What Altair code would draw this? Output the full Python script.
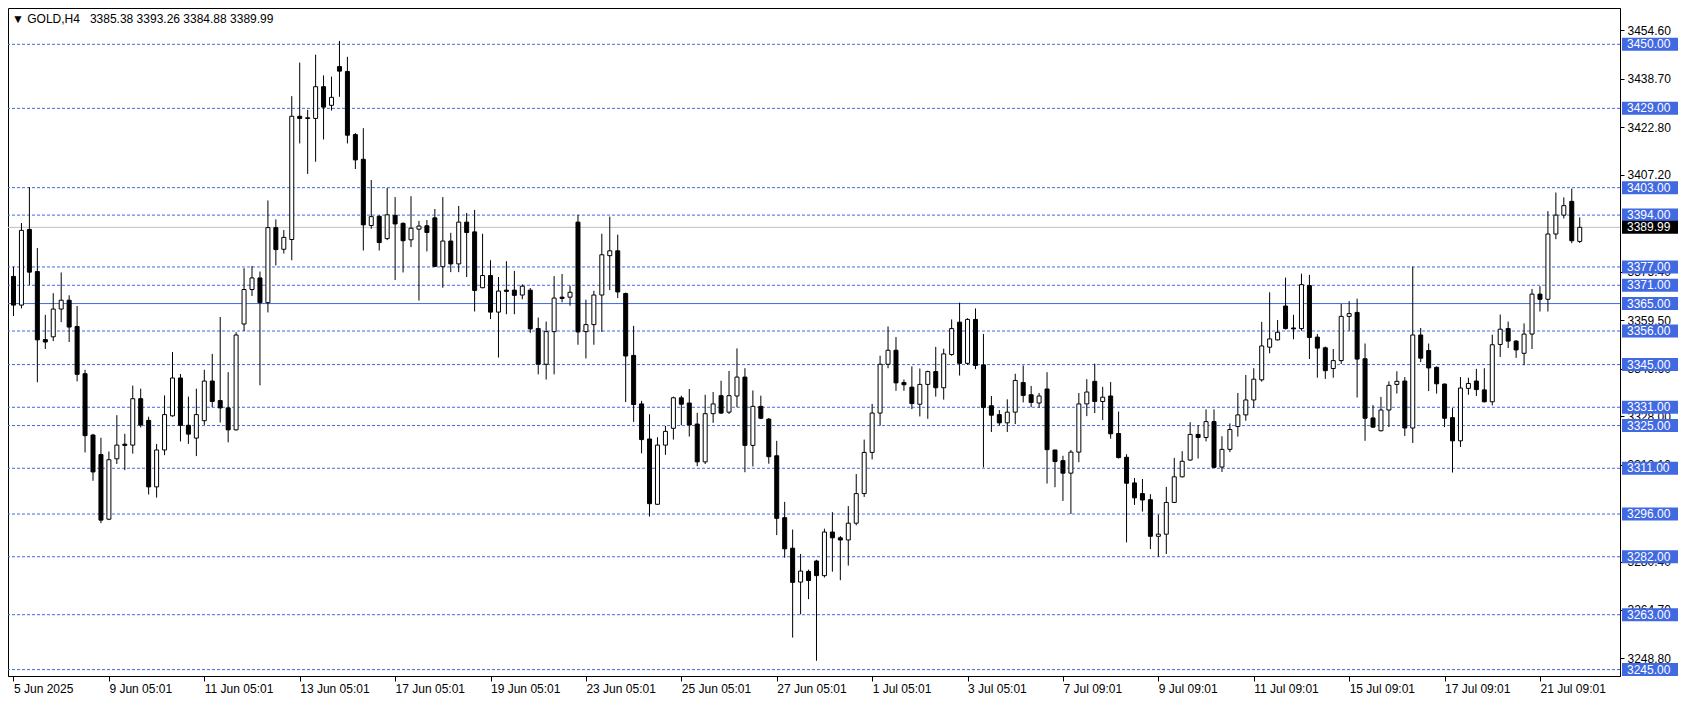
import altair as alt
import pandas as pd

# ---------------- data ----------------
opens = [3373.9, 3364.5, 3389.3, 3375.5, 3353.2, 3354.1, 3363.2, 3366.1, 3357.5, 3342.0,
         3321.9, 3315.5, 3294.3, 3314.1, 3318.9, 3318.6, 3333.8, 3326.7, 3304.9, 3317.0,
         3328.2, 3340.6, 3325.1, 3320.9, 3326.6, 3339.6, 3333.2, 3330.8, 3323.6, 3358.3,
         3369.6, 3373.4, 3365.3, 3389.9, 3382.8, 3386.0, 3426.4, 3425.9, 3425.7, 3436.1,
         3430.0, 3442.7, 3441.1, 3420.4, 3412.3, 3390.6, 3393.6, 3386.3, 3393.9, 3391.3,
         3385.9, 3389.4, 3390.5, 3393.1, 3377.1, 3385.5, 3378.0, 3391.7, 3388.5, 3370.2,
         3374.2, 3362.2, 3369.4, 3369.4, 3367.8, 3369.4, 3356.8, 3345.1, 3355.8, 3367.1,
         3367.1, 3391.7, 3355.8, 3358.1, 3367.8, 3380.7, 3382.3, 3368.3, 3348.0, 3332.1,
         3320.6, 3299.2, 3318.6, 3324.1, 3334.1, 3332.4, 3325.5, 3313.1, 3328.9, 3334.8,
         3329.4, 3334.7, 3340.9, 3318.5, 3331.3, 3327.1, 3315.1, 3294.8, 3284.8, 3273.7,
         3277.2, 3280.6, 3275.8, 3290.1, 3288.2, 3287.5, 3293.0, 3302.7, 3316.2, 3329.1,
         3345.1, 3349.7, 3339.1, 3337.6, 3332.0, 3338.5, 3342.7, 3337.4, 3348.3, 3358.9,
         3345.4, 3359.8, 3344.9, 3331.5, 3328.6, 3325.9, 3329.4, 3339.1, 3335.1, 3332.4,
         3337.0, 3317.0, 3313.5, 3309.4, 3316.3, 3332.1, 3339.5, 3332.9, 3334.7, 3322.4,
         3314.6, 3306.2, 3302.7, 3300.7, 3288.7, 3289.4, 3299.8, 3308.2, 3313.7, 3322.1,
         3321.1, 3326.3, 3311.4, 3317.2, 3324.7, 3328.5, 3333.4, 3340.0, 3350.7, 3353.1,
         3364.2, 3357.0, 3356.8, 3370.9, 3354.0, 3350.5, 3343.7, 3346.3, 3360.8, 3362.1,
         3346.9, 3327.5, 3323.3, 3330.1, 3338.5, 3339.6, 3324.2, 3354.7, 3349.6, 3344.1,
         3338.6, 3327.6, 3320.0, 3337.2, 3339.6, 3336.7, 3332.8, 3351.6, 3356.8, 3352.7,
         3348.7, 3355.0, 3368.1, 3366.4, 3387.8, 3394.0, 3398.5, 3385.38]
highs = [3377.1, 3391.4, 3403.2, 3383.2, 3361.3, 3368.4, 3375.2, 3367.7, 3364.2, 3343.3,
         3322.3, 3321.0, 3316.5, 3328.4, 3322.3, 3338.1, 3337.1, 3327.9, 3319.0, 3334.9,
         3349.1, 3341.9, 3334.5, 3337.1, 3343.3, 3348.5, 3360.6, 3342.5, 3355.6, 3376.6,
         3377.3, 3375.5, 3398.8, 3392.6, 3389.1, 3433.0, 3444.0, 3428.5, 3446.6, 3439.8,
         3439.4, 3451.1, 3445.9, 3420.9, 3422.5, 3405.5, 3394.0, 3402.9, 3399.9, 3391.6,
         3400.2, 3392.1, 3392.4, 3396.0, 3399.9, 3388.2, 3397.0, 3394.7, 3395.7, 3387.9,
         3379.2, 3373.7, 3378.9, 3375.7, 3371.3, 3370.1, 3360.4, 3359.1, 3374.0, 3374.7,
         3370.9, 3394.1, 3366.3, 3369.2, 3387.9, 3393.5, 3387.6, 3368.6, 3357.7, 3333.1,
         3328.7, 3321.2, 3324.9, 3334.5, 3334.8, 3337.0, 3329.2, 3335.1, 3336.0, 3339.7,
         3342.9, 3350.3, 3343.8, 3336.5, 3334.8, 3327.5, 3320.0, 3300.0, 3290.9, 3282.9,
         3277.8, 3281.0, 3291.2, 3296.6, 3288.8, 3298.6, 3309.1, 3320.4, 3332.1, 3347.9,
         3357.5, 3354.0, 3340.1, 3344.4, 3343.7, 3343.0, 3350.8, 3350.2, 3359.8, 3365.3,
         3360.2, 3363.4, 3355.0, 3334.7, 3330.1, 3333.6, 3342.0, 3344.7, 3338.0, 3335.7,
         3342.5, 3317.0, 3315.1, 3317.0, 3335.7, 3340.2, 3345.3, 3337.7, 3339.3, 3329.6,
         3315.6, 3307.8, 3307.5, 3302.5, 3295.8, 3304.9, 3314.4, 3316.6, 3326.1, 3325.1,
         3330.3, 3330.3, 3321.5, 3325.7, 3335.7, 3341.6, 3343.8, 3359.0, 3368.7, 3359.6,
         3373.5, 3361.3, 3374.8, 3374.4, 3355.0, 3350.9, 3350.1, 3364.9, 3365.8, 3366.6,
         3351.9, 3331.7, 3334.4, 3339.5, 3342.8, 3340.9, 3377.1, 3357.0, 3351.9, 3344.4,
         3338.8, 3330.7, 3340.9, 3340.7, 3343.6, 3343.8, 3354.8, 3361.4, 3359.1, 3353.0,
         3358.5, 3369.8, 3370.7, 3395.3, 3401.4, 3399.8, 3402.7, 3393.26]
lows = [3360.9, 3363.4, 3371.1, 3339.2, 3350.1, 3352.7, 3358.9, 3352.4, 3339.5, 3316.2,
        3306.9, 3293.0, 3294.0, 3312.4, 3310.4, 3315.8, 3324.4, 3302.4, 3301.4, 3315.3,
        3327.9, 3319.8, 3319.0, 3315.0, 3325.2, 3331.0, 3326.0, 3319.5, 3323.4, 3356.0,
        3367.5, 3338.2, 3362.1, 3377.5, 3381.4, 3379.2, 3417.5, 3407.5, 3411.5, 3418.8,
        3428.3, 3432.8, 3417.5, 3409.1, 3382.4, 3389.5, 3382.4, 3385.8, 3372.7, 3375.2,
        3383.5, 3366.0, 3382.1, 3377.0, 3370.2, 3375.3, 3375.3, 3373.7, 3362.4, 3370.0,
        3359.9, 3347.3, 3361.5, 3361.5, 3366.4, 3355.4, 3341.8, 3340.1, 3341.8, 3365.4,
        3364.3, 3351.5, 3347.0, 3351.5, 3355.7, 3369.4, 3366.8, 3332.7, 3326.2, 3315.9,
        3295.2, 3299.0, 3315.4, 3320.4, 3325.1, 3321.4, 3311.7, 3312.4, 3325.9, 3328.8,
        3328.8, 3331.0, 3309.7, 3311.6, 3327.1, 3312.5, 3289.1, 3281.7, 3255.5, 3263.1,
        3268.1, 3247.9, 3275.2, 3277.1, 3274.3, 3279.1, 3292.3, 3301.6, 3313.9, 3325.0,
        3343.8, 3336.4, 3336.4, 3330.4, 3328.0, 3327.2, 3334.5, 3333.5, 3347.9, 3341.4,
        3344.9, 3343.5, 3311.3, 3322.9, 3325.0, 3322.9, 3325.5, 3332.6, 3331.0, 3330.8,
        3306.0, 3304.8, 3300.3, 3296.0, 3313.0, 3328.1, 3329.1, 3326.8, 3320.7, 3314.2,
        3286.7, 3299.0, 3296.8, 3284.5, 3282.0, 3282.9, 3299.6, 3308.0, 3313.5, 3314.2,
        3319.8, 3311.1, 3309.8, 3316.3, 3321.4, 3326.6, 3330.8, 3339.4, 3348.7, 3352.9,
        3356.5, 3353.3, 3356.1, 3346.8, 3340.7, 3340.3, 3340.7, 3345.2, 3356.1, 3334.2,
        3320.0, 3324.2, 3323.1, 3324.5, 3335.5, 3321.6, 3319.3, 3345.8, 3336.3, 3335.5,
        3324.5, 3309.6, 3318.0, 3335.1, 3334.7, 3332.6, 3331.6, 3347.5, 3350.4, 3347.2,
        3344.8, 3350.1, 3362.4, 3362.4, 3386.1, 3392.9, 3384.8, 3384.88]
closes = [3364.5, 3389.0, 3375.3, 3353.1, 3352.4, 3363.2, 3366.1, 3357.3, 3341.8, 3321.7,
          3309.8, 3294.0, 3313.8, 3318.6, 3318.5, 3333.8, 3325.2, 3304.9, 3317.0, 3328.6,
          3340.6, 3325.1, 3322.2, 3328.6, 3339.6, 3332.9, 3330.8, 3323.6, 3354.7, 3369.6,
          3373.4, 3365.3, 3389.9, 3382.7, 3386.7, 3426.4, 3425.7, 3425.7, 3436.1, 3429.4,
          3432.6, 3441.2, 3420.2, 3412.1, 3390.8, 3393.5, 3385.0, 3394.1, 3391.1, 3385.6,
          3389.7, 3390.4, 3388.3, 3377.2, 3385.5, 3378.0, 3391.7, 3388.3, 3369.3, 3374.2,
          3362.2, 3369.1, 3369.0, 3367.7, 3370.7, 3356.7, 3345.1, 3355.8, 3366.8, 3366.7,
          3368.7, 3355.7, 3358.1, 3367.8, 3381.0, 3382.3, 3368.8, 3347.8, 3331.9, 3320.4,
          3299.4, 3318.6, 3323.1, 3334.1, 3332.0, 3325.2, 3313.1, 3328.9, 3332.1, 3329.1,
          3334.8, 3340.9, 3318.5, 3331.3, 3327.4, 3314.8, 3294.6, 3284.6, 3273.6, 3277.3,
          3274.2, 3275.8, 3290.1, 3288.2, 3287.5, 3293.0, 3302.7, 3316.2, 3329.1, 3345.1,
          3349.7, 3339.0, 3338.4, 3332.2, 3338.5, 3342.7, 3337.4, 3348.5, 3356.8, 3345.4,
          3359.8, 3344.7, 3330.9, 3328.4, 3325.9, 3329.4, 3339.8, 3334.9, 3332.6, 3334.7,
          3317.1, 3313.2, 3309.4, 3316.3, 3332.1, 3336.0, 3332.9, 3334.3, 3322.3, 3314.5,
          3306.1, 3301.3, 3300.6, 3288.7, 3289.4, 3299.8, 3308.2, 3313.3, 3322.1, 3321.1,
          3326.3, 3311.3, 3317.2, 3323.7, 3328.5, 3333.4, 3340.2, 3351.1, 3353.4, 3355.6,
          3356.8, 3356.7, 3371.2, 3353.9, 3350.4, 3343.0, 3346.3, 3360.8, 3361.7, 3346.8,
          3327.4, 3324.5, 3330.1, 3338.2, 3339.5, 3324.2, 3354.7, 3347.1, 3343.9, 3338.7,
          3327.4, 3320.0, 3337.3, 3338.8, 3336.8, 3332.8, 3351.5, 3356.6, 3352.7, 3349.8,
          3355.0, 3368.1, 3366.4, 3387.8, 3394.0, 3397.1, 3385.6, 3389.99]

tick_bars = [0, 12, 24, 36, 48, 60, 72, 84, 96, 108, 120, 132, 144, 156, 168, 180, 192]
tick_labels = ["5 Jun 2025", "9 Jun 05:01", "11 Jun 05:01", "13 Jun 05:01", "17 Jun 05:01",
               "19 Jun 05:01", "23 Jun 05:01", "25 Jun 05:01", "27 Jun 05:01", "1 Jul 05:01",
               "3 Jul 05:01", "7 Jul 09:01", "9 Jul 09:01", "11 Jul 09:01", "15 Jul 09:01",
               "17 Jul 09:01", "21 Jul 09:01"]

# price-scale ticks (the ones that the level boxes hide entirely are left out)
price_ticks = [3454.6, 3438.7, 3422.8, 3407.2, 3375.4, 3359.5, 3343.6, 3328.0,
               3312.1, 3280.4, 3264.7, 3248.8]

dashed_levels = [3450, 3429, 3403, 3394, 3377, 3371, 3356, 3345, 3331, 3325, 3311, 3296,
                 3282, 3263, 3245]
solid_levels = [3365]
last_price = [3389.99]
header = ["\u25bc GOLD,H4\u00a0\u00a0 3385.38 3393.26 3384.88 3389.99"]

# ---------------- tables ----------------
n = len(opens)
df = pd.DataFrame({"i": list(range(n)), "open": opens, "high": highs,
                   "low": lows, "close": closes})
df["dir"] = ["up" if c >= o else "down" for o, c in zip(opens, closes)]

lvl_df = pd.DataFrame({"price": dashed_levels})
solid_df = pd.DataFrame({"price": solid_levels})
box_df = pd.DataFrame({"price": dashed_levels + solid_levels})
last_df = pd.DataFrame({"price": last_price})
head_df = pd.DataFrame({"t": header})

W, H = 1612, 668
FONT = "Liberation Sans"
BLUE = "#4169E1"

label_expr = "{}[indexof({}, datum.value)]".format(
    "[" + ",".join("'" + s + "'" for s in tick_labels) + "]",
    "[" + ",".join(str(v) for v in tick_bars) + "]")

x_axis = alt.Axis(values=tick_bars, labelExpr=label_expr, orient="bottom",
                  labelAlign="left", labelBaseline="top", labelPadding=2, tickSize=5,
                  labelFontSize=12, labelFont=FONT, labelColor="black",
                  domainColor="black", tickColor="black", labelOverlap=False,
                  labelBound=False, labelFlush=False, grid=False, title=None)
y_axis = alt.Axis(values=price_ticks, labelExpr="format(datum.value, '.2f')",
                  orient="right", labelAlign="left", labelBaseline="middle",
                  labelPadding=3, tickSize=4, labelFontSize=12, labelFont=FONT,
                  labelColor="black", domainColor="black", tickColor="black",
                  labelOverlap=False, labelBound=False, grid=False, title=None)

x_scale = alt.Scale(domain=[-0.0625, 201.4375], nice=False, zero=False)
y_scale = alt.Scale(domain=[3242.9, 3461.9], nice=False, zero=False)


def X(field="i:Q"):
    return alt.X(field, scale=x_scale, axis=x_axis, title=None)


def Y(field):
    return alt.Y(field, scale=y_scale, axis=y_axis, title=None)


levels = alt.Chart(lvl_df).mark_rule(color=BLUE, strokeWidth=1, strokeDash=[3, 2]).encode(
    y=Y("price:Q"))
solid = alt.Chart(solid_df).mark_rule(color=BLUE, strokeWidth=1).encode(y=Y("price:Q"))
last_line = alt.Chart(last_df).mark_rule(color="#c0c0c0", strokeWidth=1).encode(y=Y("price:Q"))

wicks = alt.Chart(df).mark_rule(color="black", strokeWidth=1, clip=True).encode(
    x=X(), y=Y("low:Q"), y2="high:Q")
bodies = alt.Chart(df).mark_bar(size=4, stroke="black", strokeWidth=1, clip=True).encode(
    x=X(), y=Y("open:Q"), y2="close:Q",
    fill=alt.Fill("dir:N", scale=alt.Scale(domain=["up", "down"], range=["white", "black"]),
                  legend=None))

boxes = alt.Chart(box_df).mark_tick(orient="horizontal", size=56, thickness=13,
                                    color=BLUE, opacity=1).encode(
    y=Y("price:Q"), x=alt.value(W + 30))
box_text = alt.Chart(box_df).mark_text(align="left", baseline="middle", color="white",
                                       fontSize=12, font=FONT).encode(
    y=Y("price:Q"), x=alt.value(W + 7), text=alt.Text("price:Q", format=".2f"))
last_box = alt.Chart(last_df).mark_tick(orient="horizontal", size=56, thickness=13,
                                        color="black", opacity=1).encode(
    y=Y("price:Q"), x=alt.value(W + 30))
last_text = alt.Chart(last_df).mark_text(align="left", baseline="middle", color="white",
                                         fontSize=12, font=FONT).encode(
    y=Y("price:Q"), x=alt.value(W + 7), text=alt.Text("price:Q", format=".2f"))

head = alt.Chart(head_df).mark_text(align="left", baseline="middle", fontSize=12,
                                    font=FONT, color="black").encode(
    text="t:N", x=alt.value(4), y=alt.value(11))

chart = alt.layer(levels, solid, last_line, wicks, bodies, boxes, box_text, last_box,
                  last_text, head).properties(
    width=W, height=H,
    autosize=alt.AutoSizeParams(type="none"),
    padding={"left": 0, "top": 0, "right": 64, "bottom": 20},
    background="white",
).configure_view(stroke="black", strokeWidth=1).configure_axis(grid=False)

chart.save("out.html", embed_options={"renderer": "svg", "actions": False})
